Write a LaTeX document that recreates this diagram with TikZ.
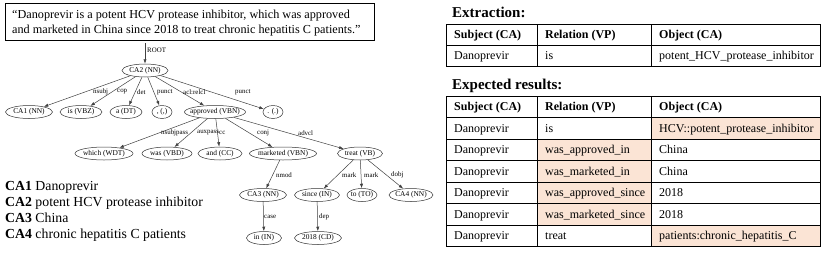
\documentclass[tikz,border=0pt]{standalone}
\usepackage{fontspec}
\setmainfont{Liberation Serif}
\usetikzlibrary{shapes.geometric,arrows.meta}
\definecolor{peach}{RGB}{251,228,213}
\newcommand\zb[1]{\makebox[0pt]{#1}}
\begin{document}
\begin{tikzpicture}[x=1pt,y=-1pt,
  tn/.style={ellipse, draw=black!80, line width=0.5pt, inner sep=0pt, minimum height=13pt, font=\fontsize{7.4}{8}\selectfont},
  el/.style={font=\fontsize{6.9}{8}\selectfont, inner sep=0pt, anchor=west},
  depe/.style={draw=black!75, line width=0.5pt, -{Latex[length=4.5pt,width=3.2pt]}},
  tt/.style={font=\fontsize{12}{14}\selectfont, inner sep=0pt, anchor=base west},
  th/.style={tt, font=\fontsize{12}{14}\selectfont\bfseries},
  ttl/.style={font=\fontsize{15}{17}\selectfont\bfseries, inner sep=0pt, anchor=base west},
  lg/.style={font=\fontsize{13.8}{16}\selectfont, inner sep=0pt, anchor=base west},
  grid/.style={draw=black, line width=0.8pt}
]
\useasboundingbox (0,0) rectangle (830,252);

% sentence box
\node[draw=black, line width=1pt, inner sep=0pt, minimum width=369pt, minimum height=37pt, anchor=north west] (sent) at (5,3) {};
\node[font=\fontsize{12.2}{15}\selectfont, inner sep=0pt, anchor=base west] (s1) at (12,18) {“Danoprevir is a potent HCV protease inhibitor, which was approved};
\node[font=\fontsize{12.2}{15}\selectfont, inner sep=0pt, anchor=base west] (s2) at (12,33) {and marketed in China since 2018 to treat chronic hepatitis C patients.”};

% tree
\coordinate (root) at (145,43);
\node[tn, minimum width=46pt] (ca2) at (145,70.5) {\zb{CA2 (NN)}};
\node[el] (lroot) at (147,50) {ROOT};

\node[tn, minimum width=47pt] (ca1) at (29,112) {\zb{CA1 (NN)}};
\node[tn, minimum width=42pt] (is) at (81,112) {\zb{is (VBZ)}};
\node[tn, minimum width=32pt] (a) at (126,112) {\zb{a (DT)}};
\node[tn, minimum width=20pt] (comma) at (162,112) {\zb{, (,)}};
\node[tn, minimum width=61pt] (appr) at (215,112) {\zb{approved (VBN)}};
\node[tn, minimum width=20pt] (period) at (273,112) {\zb{. (.)}};

\node[tn, minimum width=58pt] (which) at (104,153.5) {\zb{which (WDT)}};
\node[tn, minimum width=50pt] (was) at (167,153.5) {\zb{was (VBD)}};
\node[tn, minimum width=44pt] (and) at (220,153.5) {\zb{and (CC)}};
\node[tn, minimum width=67pt] (mkt) at (283,153.5) {\zb{marketed (VBN)}};
\node[tn, minimum width=45pt] (treat) at (360,153.5) {\zb{treat (VB)}};

\node[tn, minimum width=47pt] (ca3) at (263,195) {\zb{CA3 (NN)}};
\node[tn, minimum width=45pt] (since) at (317,195) {\zb{since (IN)}};
\node[tn, minimum width=30pt] (to) at (362,195) {\zb{to (TO)}};
\node[tn, minimum width=44pt] (ca4) at (411,195) {\zb{CA4 (NN)}};

\node[tn, minimum width=35pt] (in) at (264,238) {\zb{in (IN)}};
\node[tn, minimum width=47pt] (y2018) at (318,238) {\zb{2018 (CD)}};

\draw[depe] (root) -- (ca2);
\draw[depe] (ca2) -- (ca1);
\draw[depe] (ca2) -- (is);
\draw[depe] (ca2) -- (a);
\draw[depe] (ca2) -- (comma);
\draw[depe] (ca2) -- (appr);
\draw[depe] (ca2) -- (period);
\draw[depe] (appr) -- (which);
\draw[depe] (appr) -- (was);
\draw[depe] (appr) -- (and);
\draw[depe] (appr) -- (mkt);
\draw[depe] (appr) -- (treat);
\draw[depe] (mkt) -- (ca3);
\draw[depe] (treat) -- (since);
\draw[depe] (treat) -- (to);
\draw[depe] (treat) -- (ca4);
\draw[depe] (ca3) -- (in);
\draw[depe] (since) -- (y2018);

\node[el] (l1) at (93,92) {nsubj};
\node[el] (l2) at (117,92) {cop};
\node[el] (l3) at (137,92) {det};
\node[el] (l4) at (157,92) {punct};
\node[el] (l5) at (183,92) {acl:relcl};
\node[el] (l6) at (235,92) {punct};
\node[el] (l7) at (161,133) {nsubjpass};
\node[el] (l8) at (197,133) {auxpass};
\node[el] (l9) at (219,133) {cc};
\node[el] (l10) at (257,133) {conj};
\node[el] (l11) at (298,133) {advcl};
\node[el] (l12) at (276,175) {nmod};
\node[el] (l13) at (342,175) {mark};
\node[el] (l14) at (364,175) {mark};
\node[el] (l15) at (391,175) {dobj};
\node[el] (l16) at (264,217) {case};
\node[el] (l17) at (319,217) {dep};

% legend
\node[lg] (g1) at (5,190) {\textbf{CA1} Danoprevir};
\node[lg] (g2) at (5,206) {\textbf{CA2} potent HCV protease inhibitor};
\node[lg] (g3) at (5,222) {\textbf{CA3} China};
\node[lg] (g4) at (5,238) {\textbf{CA4} chronic hepatitis C patients};

% table 1
\node[ttl] (t1title) at (452,17) {Extraction:};
\draw[grid] (446,24) rectangle (820,66);
\draw[grid] (446,45) -- (820,45);
\draw[grid] (537,24) -- (537,66);
\draw[grid] (651,24) -- (651,66);
\node[th] (t1h1) at (454,38.5) {Subject (CA)};
\node[th] (t1h2) at (545,38.5) {Relation (VP)};
\node[th] (t1h3) at (659,38.5) {Object (CA)};
\node[tt] (t1a) at (454,59.5) {Danoprevir};
\node[tt] (t1b) at (545,59.5) {is};
\node[tt] (t1c) at (659,59.5) {potent\_HCV\_protease\_inhibitor};

% table 2
\node[ttl] (t2title) at (452,89) {Expected results:};
\fill[peach] (651,117.5) rectangle (820,139);
\fill[peach] (537,139) rectangle (651,225);
\fill[peach] (651,225) rectangle (820,246.5);
\draw[grid] (446,96) rectangle (820,246.5);
\foreach \yy in {117.5,139,160.5,182,203.5,225} \draw[grid] (446,\yy) -- (820,\yy);
\draw[grid] (537,96) -- (537,246.5);
\draw[grid] (651,96) -- (651,246.5);
\node[th] (t2h1) at (454,110.5) {Subject (CA)};
\node[th] (t2h2) at (545,110.5) {Relation (VP)};
\node[th] (t2h3) at (659,110.5) {Object (CA)};
\node[tt] (r1a) at (454,132) {Danoprevir};
\node[tt] (r1b) at (545,132) {is};
\node[tt] (r1c) at (659,132) {HCV::potent\_protease\_inhibitor};
\node[tt] (r2a) at (454,153.5) {Danoprevir};
\node[tt] (r2b) at (545,153.5) {was\_approved\_in};
\node[tt] (r2c) at (659,153.5) {China};
\node[tt] (r3a) at (454,175) {Danoprevir};
\node[tt] (r3b) at (545,175) {was\_marketed\_in};
\node[tt] (r3c) at (659,175) {China};
\node[tt] (r4a) at (454,196.5) {Danoprevir};
\node[tt] (r4b) at (545,196.5) {was\_approved\_since};
\node[tt] (r4c) at (659,196.5) {2018};
\node[tt] (r5a) at (454,218) {Danoprevir};
\node[tt] (r5b) at (545,218) {was\_marketed\_since};
\node[tt] (r5c) at (659,218) {2018};
\node[tt] (r6a) at (454,239.5) {Danoprevir};
\node[tt] (r6b) at (545,239.5) {treat};
\node[tt] (r6c) at (659,239.5) {patients:chronic\_hepatitis\_C};
\end{tikzpicture}
\end{document}
